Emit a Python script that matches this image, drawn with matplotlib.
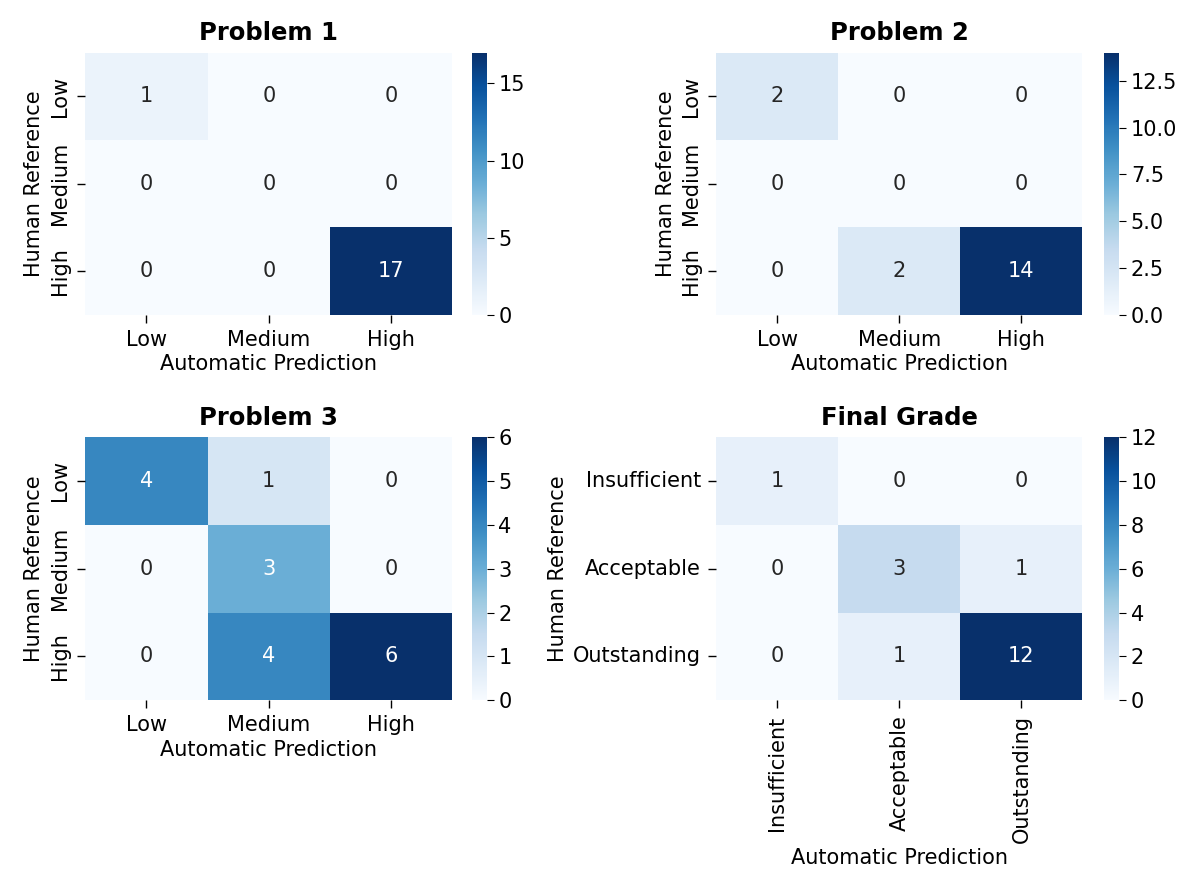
import matplotlib
matplotlib.use("Agg")
import matplotlib.pyplot as plt
from matplotlib.ticker import MultipleLocator, FormatStrFormatter
import numpy as np
import seaborn as sns

levels = ["Low", "Medium", "High"]
grades = ["Insufficient", "Acceptable", "Outstanding"]

problem1 = [[1, 0, 0], [0, 0, 0], [0, 0, 17]]
problem2 = [[2, 0, 0], [0, 0, 0], [0, 2, 14]]
problem3 = [[4, 1, 0], [0, 3, 0], [0, 4, 6]]
final_grade = [[1, 0, 0], [0, 3, 1], [0, 1, 12]]

FS = 15

fig = plt.figure(figsize=(12, 8.92), dpi=100)

# (data, labels, title, heatmap rect, colorbar rect, horizontal y labels, cbar step, cbar fmt)
panels = [
    (problem1, levels, "Problem 1", [0.071, 0.647, 0.306, 0.294], [0.393, 0.647, 0.0125, 0.294], False, 5, "%d"),
    (problem2, levels, "Problem 2", [0.597, 0.647, 0.305, 0.294], [0.920, 0.647, 0.0125, 0.294], False, 2.5, "%.1f"),
    (problem3, levels, "Problem 3", [0.071, 0.215, 0.306, 0.295], [0.393, 0.215, 0.0125, 0.295], False, 1, "%d"),
    (final_grade, grades, "Final Grade", [0.597, 0.215, 0.305, 0.295], [0.920, 0.215, 0.0125, 0.295], True, 2, "%d"),
]

for data, labels, title, rect, cbar_rect, horiz, step, fmt in panels:
    ax = fig.add_axes(rect)
    cax = fig.add_axes(cbar_rect)
    sns.heatmap(np.array(data), annot=True, fmt="d", cmap="Blues", ax=ax, cbar_ax=cax,
                xticklabels=labels, yticklabels=labels, annot_kws={"fontsize": FS})
    ax.set_title(title, fontsize=FS + 2.5, fontweight="bold", pad=9)
    ax.set_xlabel("Automatic Prediction", fontsize=FS, labelpad=3)
    ax.set_ylabel("Human Reference", fontsize=FS)
    if horiz:
        ax.set_yticklabels(labels, rotation=0, fontsize=FS)
        ax.set_xticklabels(labels, rotation=90, fontsize=FS)
    else:
        ax.set_yticklabels(labels, rotation=90, va="center", fontsize=FS)
        ax.set_xticklabels(labels, rotation=0, fontsize=FS)
    ax.tick_params(length=6, width=1, pad=5)
    cax.yaxis.set_major_locator(MultipleLocator(step))
    cax.yaxis.set_major_formatter(FormatStrFormatter(fmt))
    cax.tick_params(labelsize=FS, length=5)

fig.savefig("out.png", dpi=100)
